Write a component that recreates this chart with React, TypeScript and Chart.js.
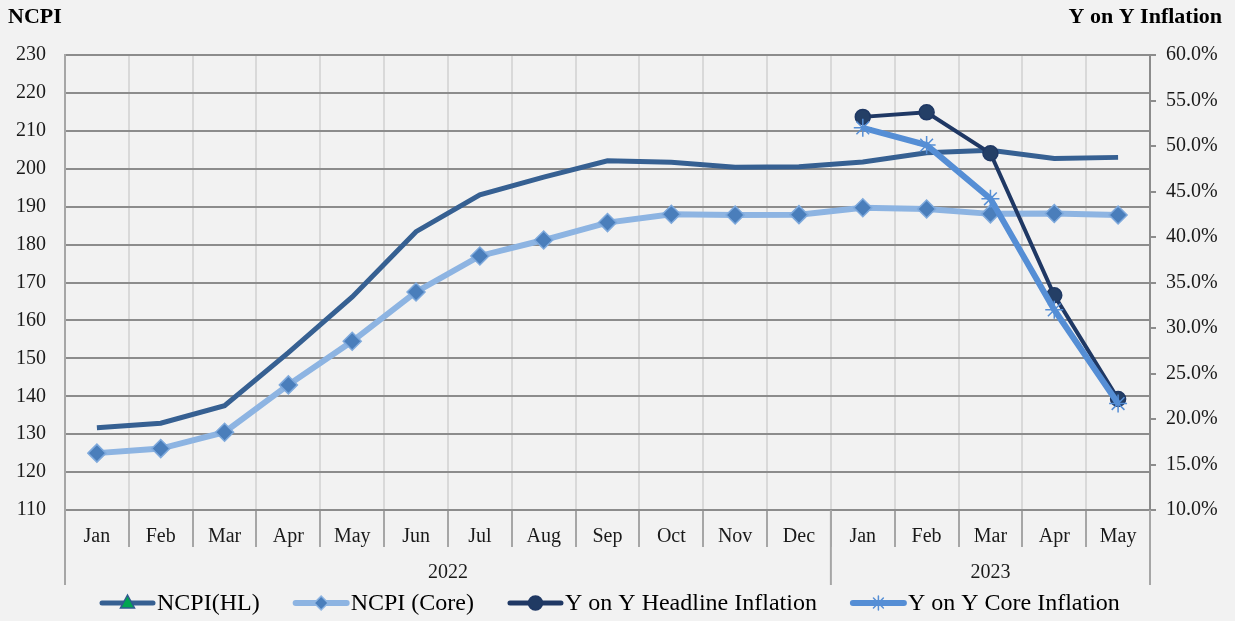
import React, { useEffect, useRef } from 'react';
import { Chart, registerables } from 'chart.js';

Chart.register(...registerables);

const SERIF = "'Liberation Serif', 'Times New Roman', Times, serif";

const months = ['Jan', 'Feb', 'Mar', 'Apr', 'May', 'Jun', 'Jul', 'Aug', 'Sep', 'Oct', 'Nov', 'Dec', 'Jan', 'Feb', 'Mar', 'Apr', 'May'];
const yearLabels = ['2022', '2023'];
const yearStartIndex = [0, 12];

const ncpiHL = [131.7, 132.9, 137.5, 151.5, 166.2, 183.4, 193.1, 197.8, 202.1, 201.7, 200.4, 200.5, 201.8, 204.2, 204.9, 202.7, 203.0];
const ncpiCore = [125.0, 126.2, 130.5, 143.0, 154.5, 167.5, 177.0, 181.2, 185.8, 188.0, 187.8, 187.9, 189.7, 189.4, 188.1, 188.2, 187.8];
const yoyHeadline = [null, null, null, null, null, null, null, null, null, null, null, null, 53.2, 53.7, 49.2, 33.6, 22.2];
const yoyCore = [null, null, null, null, null, null, null, null, null, null, null, null, 52.0, 50.1, 44.2, 32.0, 21.7];

const leftAxis = { min: 110, max: 230, step: 10 };
const rightAxis = { min: 10, max: 60, step: 5 };

const leftTitle = 'NCPI';
const rightTitle = 'Y on Y Inflation';

const legendItems = [
  { label: 'NCPI(HL)', line: '#366092', lineWidth: 5, marker: 'triangle', fill: '#00a651', stroke: '#2f5b8f' },
  { label: 'NCPI (Core)', line: '#8db4e2', lineWidth: 6, marker: 'diamond', fill: '#4a7ebb', stroke: '#8db4e2' },
  { label: 'Y on Y Headline Inflation', line: '#1f3864', lineWidth: 5, marker: 'circle', fill: '#203a63', stroke: '#1f3864' },
  { label: 'Y on Y Core Inflation', line: '#558ed5', lineWidth: 6, marker: 'star', fill: '#558ed5', stroke: '#558ed5' },
];

function drawMarker(ctx: CanvasRenderingContext2D, kind: string, x: number, y: number, fill: string, stroke: string) {
  ctx.save();
  ctx.fillStyle = fill;
  ctx.strokeStyle = stroke;
  ctx.lineWidth = 1.5;
  ctx.beginPath();
  if (kind === 'triangle') {
    ctx.moveTo(x, y - 8);
    ctx.lineTo(x + 7, y + 5);
    ctx.lineTo(x - 7, y + 5);
    ctx.closePath();
    ctx.fill();
    ctx.stroke();
  } else if (kind === 'diamond') {
    ctx.moveTo(x, y - 7);
    ctx.lineTo(x + 7, y);
    ctx.lineTo(x, y + 7);
    ctx.lineTo(x - 7, y);
    ctx.closePath();
    ctx.fill();
    ctx.stroke();
  } else if (kind === 'circle') {
    ctx.arc(x, y, 7, 0, Math.PI * 2);
    ctx.fill();
    ctx.stroke();
  } else if (kind === 'star') {
    ctx.lineWidth = 1.5;
    const r = 7;
    for (let i = 0; i < 4; i++) {
      const a = (i * Math.PI) / 4;
      ctx.moveTo(x - r * Math.cos(a), y - r * Math.sin(a));
      ctx.lineTo(x + r * Math.cos(a), y + r * Math.sin(a));
    }
    ctx.stroke();
  }
  ctx.restore();
}

const decorPlugin = {
  id: 'decor',
  afterDraw(chart: any) {
    const ctx: CanvasRenderingContext2D = chart.ctx;
    const area = chart.chartArea;
    const xs = chart.scales.x;
    ctx.save();
    // axis titles
    ctx.fillStyle = '#000';
    ctx.font = `bold 22px ${SERIF}`;
    ctx.textBaseline = 'middle';
    ctx.textAlign = 'left';
    ctx.fillText(leftTitle, 8, 17);
    ctx.textAlign = 'right';
    ctx.fillText(rightTitle, 1222, 17);

    // year separators and labels
    const bottom = area.bottom;
    const sepBottom = bottom + 75;
    const bounds: number[] = [area.left];
    for (let i = 1; i < yearStartIndex.length; i++) {
      const k = yearStartIndex[i];
      bounds.push((xs.getPixelForValue(k - 1) + xs.getPixelForValue(k)) / 2);
    }
    bounds.push(area.right);
    ctx.strokeStyle = '#a6a6a6';
    ctx.lineWidth = 2;
    bounds.forEach((bx) => {
      ctx.beginPath();
      ctx.moveTo(bx, bottom);
      ctx.lineTo(bx, sepBottom);
      ctx.stroke();
    });
    ctx.font = `20px ${SERIF}`;
    ctx.textAlign = 'center';
    ctx.fillStyle = '#1a1a1a';
    yearLabels.forEach((lab, i) => {
      ctx.fillText(lab, (bounds[i] + bounds[i + 1]) / 2, bottom + 63);
    });

    // legend
    ctx.font = `24px ${SERIF}`;
    ctx.textAlign = 'left';
    let lx = 100;
    const ly = 603;
    legendItems.forEach((it) => {
      ctx.strokeStyle = it.line;
      ctx.lineWidth = it.lineWidth;
      ctx.lineCap = 'round';
      ctx.beginPath();
      ctx.moveTo(lx + 2, ly);
      ctx.lineTo(lx + 53, ly);
      ctx.stroke();
      drawMarker(ctx, it.marker, lx + 27.5, ly, it.fill, it.stroke);
      ctx.fillStyle = '#000';
      ctx.fillText(it.label, lx + 57, ly + 1);
      lx += 57 + ctx.measureText(it.label).width + 34;
    });
    ctx.restore();
  },
};

export default function App() {
  const ref = useRef<HTMLCanvasElement>(null);
  useEffect(() => {
    document.body.style.margin = '0';
    document.body.style.background = '#f2f2f2';
    const canvas = ref.current!;
    const chart = new Chart(canvas, {
      type: 'line',
      data: {
        labels: months,
        datasets: [
          {
            label: 'NCPI(HL)',
            data: ncpiHL,
            yAxisID: 'y',
            borderColor: '#366092',
            borderWidth: 5,
            pointRadius: 0,
            tension: 0,
            order: 4,
          },
          {
            label: 'NCPI (Core)',
            data: ncpiCore,
            yAxisID: 'y',
            borderColor: '#8db4e2',
            borderWidth: 6,
            pointStyle: 'rectRot',
            pointRadius: 9,
            pointBackgroundColor: '#4a7ebb',
            pointBorderColor: '#7ea9dc',
            pointBorderWidth: 1.5,
            order: 3,
          },
          {
            label: 'Y on Y Headline Inflation',
            data: yoyHeadline,
            yAxisID: 'y1',
            borderColor: '#1f3864',
            borderWidth: 4,
            pointStyle: 'circle',
            pointRadius: 7.5,
            pointBackgroundColor: '#243f66',
            pointBorderColor: '#1f3864',
            pointBorderWidth: 1.5,
            order: 2,
          },
          {
            label: 'Y on Y Core Inflation',
            data: yoyCore,
            yAxisID: 'y1',
            borderColor: '#558ed5',
            borderWidth: 6,
            pointStyle: 'star',
            pointRadius: 9,
            pointBackgroundColor: '#558ed5',
            pointBorderColor: '#558ed5',
            pointBorderWidth: 1.5,
            order: 1,
          },
        ],
      },
      options: {
        animation: false,
        responsive: false,
        devicePixelRatio: 1,
        layout: { padding: { top: 55, bottom: 36, left: 0, right: 0 } },
        plugins: {
          legend: { display: false },
          tooltip: { enabled: false },
          title: { display: false },
        },
        scales: {
          x: {
            type: 'category',
            offset: true,
            grid: {
              color: '#d9d9d9',
              lineWidth: 2,
              offset: true,
              drawTicks: true,
              tickLength: 37,
              tickColor: '#a6a6a6',
            },
            border: { color: '#8c8c8c', width: 2 },
            ticks: {
              color: '#1a1a1a',
              font: { family: SERIF, size: 20 },
              padding: -22,
              maxRotation: 0,
              autoSkip: false,
            },
            afterFit: (s: any) => {
              s.height = 75;
            },
          },
          y: {
            position: 'left',
            min: leftAxis.min,
            max: leftAxis.max,
            ticks: {
              stepSize: leftAxis.step,
              color: '#1a1a1a',
              font: { family: SERIF, size: 20 },
              padding: 19,
            },
            grid: { color: '#8c8c8c', lineWidth: 2, drawTicks: false },
            border: { color: '#a6a6a6', width: 2 },
            afterFit: (s: any) => {
              s.width = 65;
            },
          },
          y1: {
            position: 'right',
            min: rightAxis.min,
            max: rightAxis.max,
            ticks: {
              stepSize: rightAxis.step,
              color: '#1a1a1a',
              font: { family: SERIF, size: 20 },
              padding: 10,
              callback: (v: any) => Number(v).toFixed(1) + '%',
            },
            grid: { drawOnChartArea: false, drawTicks: true, tickLength: 6, tickColor: '#8c8c8c', lineWidth: 2 },
            border: { color: '#8c8c8c', width: 2 },
            afterFit: (s: any) => {
              s.width = 85;
            },
          },
        },
      },
      plugins: [decorPlugin],
    });
    return () => chart.destroy();
  }, []);
  return (
    <div style={{ position: 'fixed', left: 0, top: 0, width: 1235, height: 621, background: '#f2f2f2' }}>
      <canvas ref={ref} width={1235} height={621} style={{ display: 'block' }} />
    </div>
  );
}
